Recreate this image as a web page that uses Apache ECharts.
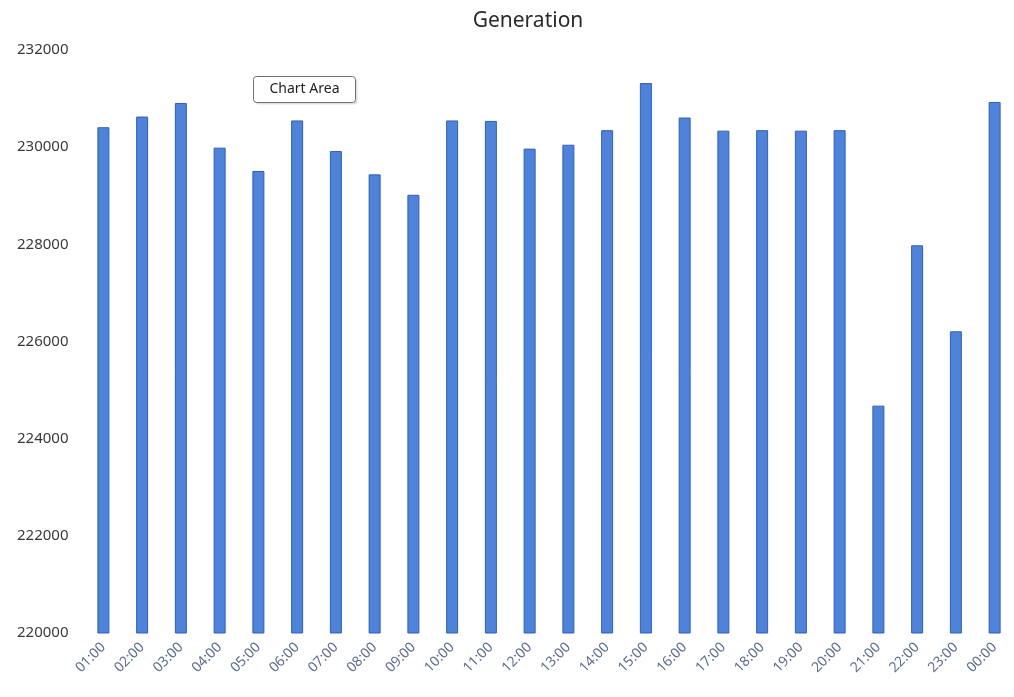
<!DOCTYPE html>
<html>
<head>
<meta charset="utf-8">
<title>Generation</title>
<script src="https://cdn.jsdelivr.net/npm/echarts@6/dist/echarts.min.js"></script>
<style>
  html, body { margin: 0; padding: 0; background: #ffffff; }
  #chart { width: 1014px; height: 697px; }
</style>
</head>
<body>
<div id="chart"></div>
<script>
// Hourly generation figures
const hours = ['01:00','02:00','03:00','04:00','05:00','06:00','07:00','08:00',
               '09:00','10:00','11:00','12:00','13:00','14:00','15:00','16:00',
               '17:00','18:00','19:00','20:00','21:00','22:00','23:00','00:00'];
const generation = [230410, 230630, 230910, 229990, 229510, 230550, 229920, 229440,
                    229020, 230550, 230540, 229970, 230050, 230350, 231320, 230610,
                    230340, 230350, 230340, 230350, 224680, 227980, 226210, 230930];
const yTicks = { min: 220000, max: 232000, step: 2000 };

const chart = echarts.init(document.getElementById('chart'));
chart.setOption({
  backgroundColor: '#ffffff',
  animation: false,
  title: {
    text: 'Generation',
    left: 523,
    textAlign: 'center',
    top: 6,
    textStyle: { fontFamily: 'Noto Sans', fontSize: 21, fontWeight: 'normal', color: '#2a2a2a' }
  },
  grid: { left: 84, top: 50, width: 936, height: 583 },
  xAxis: {
    type: 'category',
    data: hours,
    axisLine: { show: false },
    axisTick: { show: false },
    axisLabel: {
      rotate: 45,
      interval: 0,
      margin: 12,
      fontFamily: 'Noto Sans',
      fontSize: 14,
      color: '#5d6d8e'
    }
  },
  yAxis: {
    type: 'value',
    min: yTicks.min,
    max: yTicks.max,
    interval: yTicks.step,
    splitLine: { show: false },
    axisLine: { show: false },
    axisTick: { show: false },
    axisLabel: {
      align: 'left',
      margin: 67,
      fontFamily: 'Noto Sans',
      fontSize: 15,
      color: '#3a3a3a',
      formatter: (v) => String(v)
    }
  },
  series: [{
    type: 'bar',
    data: generation,
    barWidth: 12,
    itemStyle: { color: '#4f83da', borderColor: '#2f5fb4', borderWidth: 1 }
  }],
  graphic: [{
    type: 'group',
    left: 253,
    top: 76,
    children: [
      { type: 'rect', shape: { x: 2, y: 2, width: 102, height: 26, r: 3 }, style: { fill: 'rgba(0,0,0,0.12)' } },
      { type: 'rect', shape: { x: 0, y: 0, width: 102, height: 26, r: 3 }, style: { fill: '#ffffff', stroke: '#6f6f7a', lineWidth: 1 } },
      { type: 'text', style: { x: 51, y: 13, text: 'Chart Area', align: 'center', verticalAlign: 'middle', fontFamily: 'Noto Sans', fontSize: 14, fill: '#222222' } }
    ]
  }]
});
</script>
</body>
</html>
